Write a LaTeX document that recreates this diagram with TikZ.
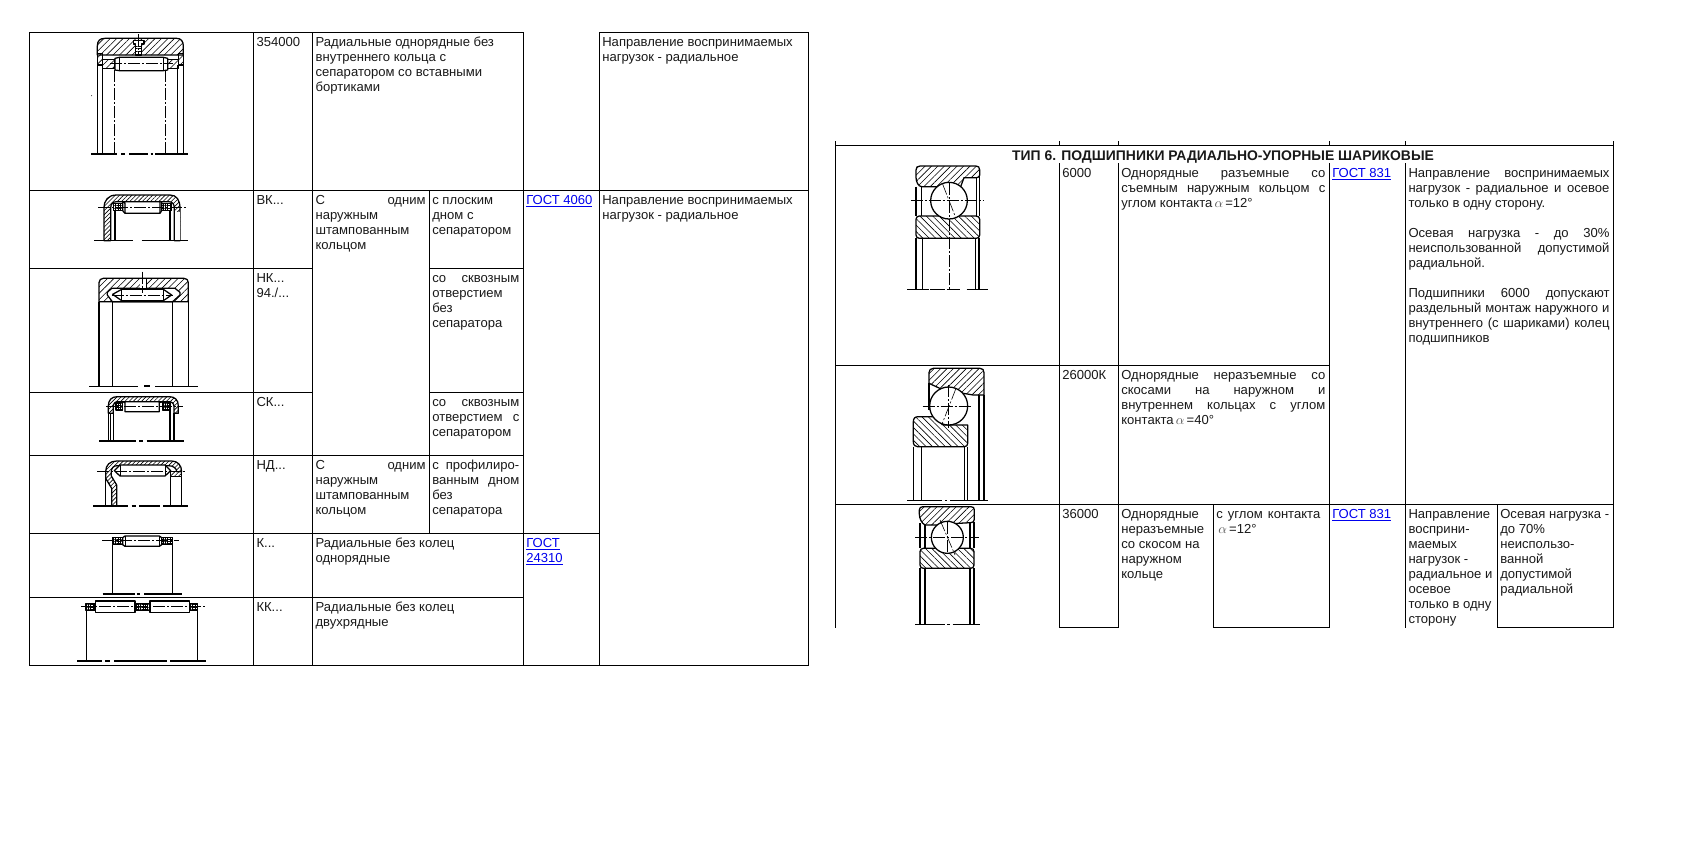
\documentclass[tikz,border=0pt]{standalone}
\usepackage{fontspec}
\setmainfont{Liberation Sans}
\usetikzlibrary{patterns.meta}
\newdimen\pxu \pxu=.75pt
\newcommand{\jl}[2]{\leavevmode\hbox to #1\pxu{\spaceskip=.278em plus 1fil\relax #2}}
\newcommand{\acell}[4]{\node[txt] (#1) at (#2+3,#3+3.5) {\strut #4};}
\newcommand{\gost}[1]{\textcolor{linkblue}{\underline{#1}}}
\newcommand{\alf}{\,{\color{black!65}$\alpha$}\,}
\definecolor{linkblue}{RGB}{0,0,238}
\tikzset{
  txt/.style={anchor=north west,inner sep=0pt,outer sep=0pt,align=left,font=\fontsize{9.8}{11.25}\selectfont,text=black!90},
  tb/.style={line width=.75pt,line cap=rect},
  ol/.style={line width=.95pt,line join=round},
  th/.style={line width=.6pt},
  ax/.style={line width=.45pt,dash pattern=on 9pt off 1.5pt on 1.5pt off 1.5pt},
  hne/.style={pattern={Lines[angle=45,distance=3.4pt,line width=.45pt]}},
  hnw/.style={pattern={Lines[angle=-45,distance=3.4pt,line width=.45pt]}},
  hnf/.style={pattern={Lines[angle=45,distance=2.2pt,line width=.45pt]}},
  cg/.style={ol,pattern={Hatch[angle=0,distance=1.7pt,line width=.45pt]}},
  zm/.style={x=.25pt,y=-.25pt}
}
\begin{document}
\begin{tikzpicture}[x=.75pt,y=-.75pt]
\useasboundingbox (0,0) rectangle (1682,854);
\fill[white] (0,0) rectangle (1682,854);
% ---------- left table lines
\foreach \X/\A/\B in {29.3/32.7/665.3,253.5/32.7/665.3,312.6/32.7/665.3,429.3/190/533.3,523.3/32.7/665.3,599.3/32.7/665.3,808.3/32.7/665.3}
  \draw[tb] (\X,\A) -- (\X,\B);
\foreach \Y/\A/\B in {32.7/29.3/523.3,32.7/599.3/808.3,190/29.3/808.3,268.3/29.3/312.6,268.3/429.3/523.3,392.3/29.3/312.6,392.3/429.3/523.3,455.5/29.3/523.3,533.3/29.3/599.3,597.3/29.3/523.3,665.3/29.3/808.3}
  \draw[tb] (\A,\Y) -- (\B,\Y);
% ---------- right table lines
\foreach \X/\A/\B in {835.7/141/627.3,1613.8/141/627.3,1059.3/163/627.3,1118.3/163/627.3,1329.3/163/627.3,1405.5/163/627.3,1213.3/504.3/627.3,1497.3/504.3/627.3,1059.3/141/145.3,1118.3/141/145.3,1329.3/141/145.3,1405.5/141/145.3}
  \draw[tb] (\X,\A) -- (\X,\B);
\foreach \Y/\A/\B in {145.3/835.7/1613.8,365.3/835.7/1329.3,504.3/835.7/1613.8,627.3/1059.3/1118.3,627.3/1213.3/1329.3,627.3/1497.3/1613.8}
  \draw[tb] (\A,\Y) -- (\B,\Y);
% ---------- left table text
\acell{a1}{253.5}{32.7}{354000}
\acell{a2}{253.5}{190}{ВК...}
\acell{a3}{253.5}{268.3}{НК...\\94./...}
\acell{a4}{253.5}{392.3}{СК...}
\acell{a5}{253.5}{455.5}{НД...}
\acell{a6}{253.5}{533.3}{К...}
\acell{a7}{253.5}{597.3}{КК...}
\acell{b1}{312.6}{32.7}{Радиальные однорядные без\\внутреннего кольца с\\сепаратором со вставными\\бортиками}
\acell{b2}{312.6}{190}{\jl{110}{С одним}\\наружным\\штампованным\\кольцом}
\acell{b5}{312.6}{455.5}{\jl{110}{С одним}\\наружным\\штампованным\\кольцом}
\acell{b6}{312.6}{533.3}{Радиальные без колец\\однорядные}
\acell{b7}{312.6}{597.3}{Радиальные без колец\\двухрядные}
\acell{c2}{429.3}{190}{с плоским\\дном с\\сепаратором}
\acell{c3}{429.3}{268.3}{\jl{87}{со сквозным}\\отверстием\\без\\сепаратора}
\acell{c4}{429.3}{392.3}{\jl{87}{со сквозным}\\\jl{87}{отверстием с}\\сепаратором}
\acell{c5}{429.3}{455.5}{\jl{87}{с профилиро-}\\\jl{87}{ванным дном}\\без\\сепаратора}
\acell{d2}{523.3}{190}{\gost{ГОСТ 4060}}
\acell{d6}{523.3}{533.3}{\gost{ГОСТ}\\\gost{24310}}
\acell{e1}{599.3}{32.7}{Направление воспринимаемых\\нагрузок - радиальное}
\acell{e2}{599.3}{190}{Направление воспринимаемых\\нагрузок - радиальное}
% ---------- right table text
\node[txt,anchor=base,font=\fontsize{10.45}{11.25}\selectfont\bfseries] (title) at (1223,160) {ТИП 6. ПОДШИПНИКИ РАДИАЛЬНО-УПОРНЫЕ ШАРИКОВЫЕ};
\acell{f1}{1059.3}{163.7}{6000}
\acell{f2}{1059.3}{365.3}{26000К}
\acell{f3}{1059.3}{504.3}{36000}
\acell{g1}{1118.3}{163.7}{\jl{204}{Однорядные разъемные со}\\\jl{204}{съемным наружным кольцом с}\\углом контакта\alf=12°}
\acell{g2}{1118.3}{365.3}{\jl{204}{Однорядные неразъемные со}\\\jl{204}{скосами на наружном и}\\\jl{204}{внутреннем кольцах с углом}\\контакта\alf=40°}
\acell{g3}{1118.3}{504.3}{Однорядные\\неразъемные\\со скосом на\\наружном\\кольце}
\acell{h3}{1213.3}{504.3}{\jl{104}{с углом контакта}\\\alf=12°}
\acell{i1}{1329.3}{163.7}{\gost{ГОСТ 831}}
\acell{i3}{1329.3}{504.3}{\gost{ГОСТ 831}}
\acell{j1}{1405.5}{163.7}{\jl{201}{Направление воспринимаемых}\\\jl{201}{нагрузок - радиальное и осевое}\\только в одну сторону.\\~\\\jl{201}{Осевая нагрузка - до 30\%}\\\jl{201}{неиспользованной допустимой}\\радиальной.\\~\\\jl{201}{Подшипники 6000 допускают}\\\jl{201}{раздельный монтаж наружного и}\\\jl{201}{внутреннего (с шариками) колец}\\подшипников}
\acell{j3}{1405.5}{504.3}{Направление\\восприни-\\маемых\\нагрузок -\\радиальное и\\осевое\\только в одну\\сторону}
\acell{k3}{1497.3}{504.3}{Осевая нагрузка -\\до 70\%\\неиспользо-\\ванной\\допустимой\\радиальной}
% ---------- drawing 354000
\begin{scope}[shift={(20,20)},zm]
\draw[ol,hne] (232,105) -- (232,78) .. controls (232,62) and (240,55) .. (255,55) -- (470,55) .. controls (483,55) and (490,64) .. (490,78) -- (490,105) -- cycle;
\draw[ol,fill=white] (340,62) -- (372,62) -- (372,72) -- (364,72) -- (364,105) -- (346,105) -- (346,72) -- (340,72) -- cycle;
\path[pattern={Lines[angle=0,distance=2pt,line width=.4pt]}] (346,72) rectangle (364,105);
\draw[ol,hne] (232,100) rectangle (247,135);
\draw[ol,hne] (475,100) rectangle (490,135);
\draw[ol,hne] (248,118) rectangle (285,146);
\draw[ol,hne] (440,118) rectangle (476,146);
\draw[ol,fill=white] (285,115) -- (298,112) -- (430,112) -- (443,115) -- (443,150) -- (430,152) -- (298,152) -- (285,150) -- cycle;
\draw[th] (298,112) -- (298,152) (430,112) -- (430,152);
\draw[ax] (270,130) -- (460,130);
\draw[ax] (355,42) -- (355,105);
\draw[ol] (232,135) -- (232,402) (247,135) -- (247,402) (473,135) -- (473,402) (490,135) -- (490,402);
\draw[ax] (283,150) -- (283,402) (436,150) -- (436,402);
\draw[ol] (213,402) -- (292,402) (303,402) -- (316,402) (328,402) -- (385,402) (392,402) -- (398,402) (405,402) -- (503,402);
\fill (215,227) circle (1.5);
\end{scope}
% ---------- drawing ВК
\begin{scope}[shift={(20,20)},zm]
\draw[ol,hnf] (252,662) -- (252,565) .. controls (252,540) and (265,525) .. (290,525) -- (450,525) .. controls (470,525) and (480,540) .. (480,565) -- (480,662) -- (463,662) -- (463,565) .. controls (463,552) and (458,545) .. (445,545) -- (290,545) .. controls (278,545) and (272,552) .. (272,565) -- (272,662) -- cycle;
\fill[white] (464,575) rectangle (479,661);
\draw[cg] (280,550) rectangle (308,572);
\draw[cg] (425,550) rectangle (455,572);
\draw[ol,fill=white] (308,545) -- (315,550) -- (315,580) -- (420,580) -- (420,545) -- cycle;
\draw[ol] (308,545) -- (308,572) -- (315,580) (425,545) -- (425,572) -- (420,580);
\draw[ax] (235,563) -- (500,563);
\draw[ol] (285,572) -- (285,662) (450,572) -- (450,662);
\draw[ol] (223,662) -- (340,662) (365,662) -- (505,662);
\end{scope}
% ---------- drawing НК
\begin{scope}[shift={(20,260)},zm]
\draw[ol,hne] (237,125) -- (237,68) .. controls (237,60) and (243,55) .. (250,55) -- (492,55) .. controls (500,55) and (505,60) .. (505,68) -- (505,125) -- cycle;
\draw[ol,fill=white] (277,125) -- (262,105) -- (262,97) -- (275,85) -- (465,85) -- (480,97) -- (480,105) -- (458,125) -- cycle;
\draw[ol,fill=white] (305,88) -- (430,88) -- (455,105) -- (430,122) -- (305,122) -- (278,103) -- cycle;
\draw[th] (305,88) -- (305,122) (430,88) -- (430,122);
\draw[th] (360,55) -- (360,85) (378,55) -- (378,85);
\fill[white] (361,56) rectangle (377,84);
\draw[ax] (368,35) -- (368,100);
\draw[ax] (275,105) -- (460,105);
\draw[ol] (237,125) -- (237,380) (277,125) -- (277,380) (458,125) -- (458,380) (505,125) -- (505,380);
\draw[ol] (207,380) -- (355,380) (372,378) -- (390,378) (405,380) -- (533,380);
\end{scope}
% ---------- drawing СК
\begin{scope}[shift={(20,260)},zm]
\draw[ol,hnf] (265,460) -- (265,438) .. controls (265,420) and (275,410) .. (292,410) -- (448,410) .. controls (465,410) and (475,420) .. (475,438) -- (475,460) -- (462,460) -- (462,440) .. controls (462,430) and (456,425) .. (445,425) -- (295,425) .. controls (285,425) and (280,430) .. (280,440) -- (280,460) -- cycle;
\draw[cg] (288,428) rectangle (308,450);
\draw[cg] (428,428) rectangle (450,450);
\draw[ol,fill=white] (308,425) -- (315,428) -- (315,455) -- (418,455) -- (418,428) -- (428,425) -- cycle;
\draw[ax] (258,438) -- (488,438);
\draw[ol] (265,460) -- (265,543) (280,460) -- (280,543) (450,450) -- (450,543) (462,460) -- (462,543);
\draw[th] (272,460) -- (272,543);
\draw[ol] (238,543) -- (348,543) (358,543) -- (370,543) (380,543) -- (492,543);
\end{scope}
% ---------- drawing НД
\begin{scope}[shift={(20,450)},zm]
\draw[ol,hnf] (290,167) -- (290,105) -- (274,78) -- (274,65) .. controls (274,55) and (280,47) .. (292,47) -- (445,47) .. controls (460,47) and (470,55) .. (470,65) -- (485,65) .. controls (485,45) and (472,33) .. (455,33) -- (290,33) .. controls (270,33) and (257,45) .. (257,65) -- (257,85) -- (275,115) -- (275,167) -- cycle;
\draw[ol,hnf] (452,65) rectangle (485,80);
\draw[ol,fill=white] (300,45) -- (435,45) -- (452,62) -- (435,78) -- (300,78) -- (283,62) -- cycle;
\draw[th] (300,45) -- (300,78) (435,45) -- (435,78);
\draw[ax] (232,63) -- (500,63);
\draw[ol] (257,85) -- (257,167) (452,80) -- (452,167) (485,80) -- (485,167);
\draw[ol] (220,168) -- (325,168) (335,168) -- (347,168) (358,168) -- (420,168) (430,168) -- (505,168);
\end{scope}
% ---------- drawing К
\begin{scope}[shift={(20,450)},zm]
\draw[cg] (277,263) rectangle (308,284);
\draw[cg] (425,263) rectangle (458,284);
\draw[ol,fill=white] (308,263) -- (315,258) -- (418,258) -- (425,263) -- (425,284) -- (418,289) -- (315,289) -- (308,284) -- cycle;
\draw[th] (315,258) -- (315,289) (418,258) -- (418,289);
\draw[ax] (247,272) -- (478,272);
\draw[ol] (277,284) -- (277,432) (458,284) -- (458,432);
\draw[ol] (248,432) -- (345,432) (350,432) -- (360,432) (372,432) -- (485,432);
\end{scope}
% ---------- drawing КК
\begin{scope}[shift={(20,450)},zm]
\draw[cg] (198,460) rectangle (225,482);
\draw[cg] (345,460) rectangle (390,482);
\draw[cg] (508,460) rectangle (533,482);
\draw[ol,fill=white] (227,453) rectangle (345,487);
\draw[ol,fill=white] (390,453) rectangle (508,487);
\draw[ax] (183,470) -- (555,470);
\draw[ol] (200,482) -- (200,633) (533,482) -- (533,633);
\draw[ol] (172,633) -- (245,633) (255,633) -- (270,633) (282,633) -- (440,633) (450,633) -- (462,633) -- (557,633);
\end{scope}
% ---------- drawing 6000
\begin{scope}[shift={(830,130)},zm]
\draw[ol,hne] (258,142) -- (258,120) .. controls (258,112) and (262,108) .. (270,108) -- (438,108) .. controls (445,108) and (449,112) .. (449,120) -- (449,135) .. controls (449,140) and (445,143) .. (440,143) -- (402,143) -- (392,170) -- (275,170) .. controls (265,170) and (258,155) .. (258,142) -- cycle;
\draw[ol,hnw] (258,268) .. controls (258,262) and (262,258) .. (268,258) -- (438,258) .. controls (445,258) and (449,262) .. (449,268) -- (449,315) .. controls (449,321) and (445,325) .. (438,325) -- (268,325) .. controls (262,325) and (258,321) .. (258,315) -- cycle;
\draw[ol] (258,170) -- (258,258) (275,170) -- (275,258) (440,143) -- (440,258) (449,135) -- (449,258);
\draw[ol,fill=white] (357,212) circle [radius=55*.25pt];
\draw[ol] (258,325) -- (258,478) (278,325) -- (278,478) (437,325) -- (437,478) (447,325) -- (447,478);
\draw[ax] (357,160) -- (357,478);
\draw[ax] (337,160) -- (378,265);
\draw[ax] (242,212) -- (463,212);
\draw[ol] (232,478) -- (297,478) (350,478) -- (390,478) (410,478) -- (473,478);
\draw[th] (300,478) -- (345,478);
\end{scope}
% ---------- drawing 26000К
\begin{scope}[shift={(830,360)},zm]
\draw[ol,hne] (297,70) -- (297,38) .. controls (297,30) and (302,25) .. (310,25) -- (450,25) .. controls (458,25) and (462,30) .. (462,38) -- (462,105) -- (430,105) -- (340,90) -- cycle;
\draw[ol,hnw] (250,185) .. controls (250,175) and (255,170) .. (265,170) -- (310,170) -- (340,195) -- (413,195) -- (413,250) .. controls (413,256) and (410,260) .. (403,260) -- (262,260) .. controls (255,260) and (250,255) .. (250,245) -- cycle;
\draw[ol] (297,70) -- (297,150) (447,105) -- (447,420) (462,105) -- (462,420);
\draw[ol,fill=white] (356,138) circle [radius=57*.25pt];
\draw[ax] (378,85) -- (335,195);
\draw[ax] (356,75) -- (356,205);
\draw[ax] (278,138) -- (425,138);
\draw[ol] (250,260) -- (250,420) (275,260) -- (275,420) (403,260) -- (403,420) (413,260) -- (413,420);
\draw[ol] (232,422) -- (335,422) (345,422) -- (350,422) (360,422) -- (473,422);
\end{scope}
% ---------- drawing 36000
\begin{scope}[shift={(830,360)},zm]
\draw[ol,hne] (268,462) -- (268,450) .. controls (268,444) and (272,440) .. (278,440) -- (423,440) .. controls (430,440) and (433,444) .. (433,450) -- (433,478) .. controls (433,485) and (428,488) .. (422,488) -- (385,490) -- (320,495) -- (285,495) .. controls (275,490) and (268,475) .. (268,462) -- cycle;
\draw[ol,hnw] (270,575) .. controls (270,569) and (274,565) .. (280,565) -- (422,565) .. controls (428,565) and (432,569) .. (432,575) -- (432,615) .. controls (432,621) and (428,625) .. (422,625) -- (280,625) .. controls (274,625) and (270,621) .. (270,615) -- cycle;
\draw[ol] (270,490) -- (270,565) (285,495) -- (285,565) (420,488) -- (420,565) (432,485) -- (432,565);
\draw[ol,fill=white] (352,532) circle [radius=48*.25pt];
\draw[ax] (330,480) -- (375,585);
\draw[ax] (352,485) -- (352,580);
\draw[ax] (255,532) -- (447,532);
\draw[ol] (270,625) -- (270,792) (285,625) -- (285,792) (420,625) -- (420,792) (432,625) -- (432,792);
\draw[ol] (255,793) -- (345,793) (352,793) -- (360,793) (368,793) -- (450,793);
\end{scope}
\end{tikzpicture}
\end{document}
